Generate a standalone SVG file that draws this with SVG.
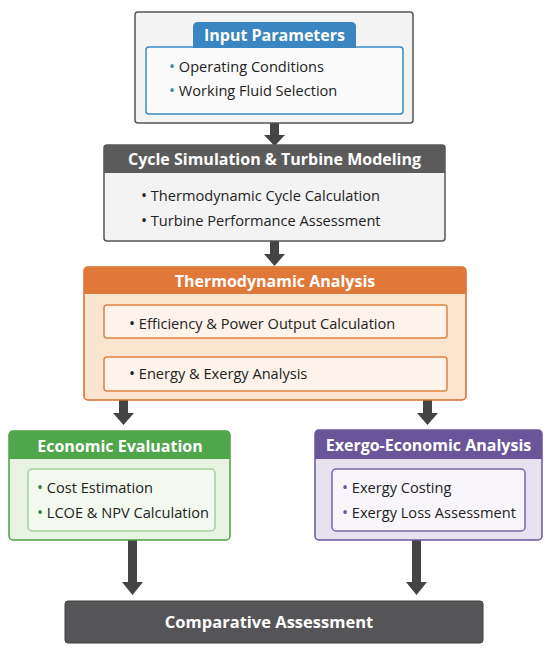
<svg xmlns="http://www.w3.org/2000/svg" width="550" height="654" viewBox="0 0 550 654">
<defs>
<style>
.t{font-family:"Open Sans","Noto Sans","Liberation Sans",sans-serif;font-size:14.6px;fill:#222}
.b{font-size:16px}
.h{font-family:"Open Sans","Noto Sans","Liberation Sans",sans-serif;font-size:16px;font-weight:bold;fill:#fff;text-anchor:middle}
.arr{fill:#444}
</style>
</defs>
<rect width="550" height="654" fill="#fff"/>

<g id="connectors" class="arr">
<polygon points="270,123 279,123 279,135 285,135 274.5,146 264,135 270,135"/>
<polygon points="270,241 279,241 279,254 285,254 274.5,266 264,254 270,254"/>
<polygon points="270,338 279,338 279,345 285,345 274.5,357 264,345 270,345"/>
<polygon points="119,400 128,400 128,413 134,413 123.5,425 113,413 119,413"/>
<polygon points="423,400 432,400 432,413 438,413 427.5,425 417,413 423,413"/>
<polygon points="128,540 137,540 137,582 143,582 132.5,595 122,582 128,582"/>
<polygon points="412,540 421,540 421,582 427,582 416.5,595 406,582 412,582"/>
</g>

<g id="input">
<rect x="135" y="12" width="278" height="111" rx="3" fill="#f4f4f4" stroke="#555" stroke-width="1.5"/>
<rect x="146" y="47" width="257" height="67" rx="3" fill="#fafafa" stroke="#3d8ac4" stroke-width="1.5"/>
<path d="M193,48 V27 Q193,22 198,22 H351 Q356,22 356,27 V48 Z" fill="#3a86c2"/>
<text class="h" x="274.5" y="40.5">Input Parameters</text>
<text class="t" x="169" y="72"><tspan class="b" fill="#3a86c2">•</tspan> Operating Conditions</text>
<text class="t" x="169" y="96"><tspan class="b" fill="#3a86c2">•</tspan> Working Fluid Selection</text>
</g>

<g id="cycle">
<rect x="104" y="145" width="341" height="96" rx="3" fill="#f3f3f3" stroke="#555" stroke-width="1.5"/>
<path d="M104,173 V148 Q104,145 107,145 H442 Q445,145 445,148 V173 Z" fill="#5b5b5b"/>
<text class="h" x="274.5" y="165">Cycle Simulation &amp; Turbine Modeling</text>
<text class="t" x="141" y="201"><tspan class="b">•</tspan> Thermodynamic Cycle Calculation</text>
<text class="t" x="141" y="226"><tspan class="b">•</tspan> Turbine Performance Assessment</text>
</g>

<g id="thermo">
<rect x="84" y="267" width="382" height="133" rx="4" fill="#fbe4d0" stroke="#d8692c" stroke-width="1.5"/>
<path d="M84,294 V271 Q84,267 88,267 H462 Q466,267 466,271 V294 Z" fill="#e0783a"/>
<text class="h" x="275" y="287">Thermodynamic Analysis</text>
<rect x="104" y="305" width="343" height="33" rx="3" fill="#fdf3ea" stroke="#e0803f" stroke-width="1.5"/>
<rect x="104" y="357" width="343" height="34" rx="3" fill="#fdf3ea" stroke="#e0803f" stroke-width="1.5"/>
<text class="t" x="129" y="329"><tspan class="b">•</tspan> Efficiency &amp; Power Output Calculation</text>
<text class="t" x="129" y="379"><tspan class="b">•</tspan> Energy &amp; Exergy Analysis</text>
</g>

<g id="economic">
<rect x="9" y="431" width="221" height="109" rx="4" fill="#e8f3e2" stroke="#4e9e48" stroke-width="1.5"/>
<path d="M9,459 V435 Q9,431 13,431 H226 Q230,431 230,435 V459 Z" fill="#4fa64b"/>
<text class="h" x="120" y="452">Economic Evaluation</text>
<rect x="28" y="469" width="187" height="62" rx="4" fill="#f3f9ef" stroke="#a2d196" stroke-width="1.5"/>
<text class="t" x="37" y="493"><tspan class="b" fill="#3f7f3a">•</tspan> Cost Estimation</text>
<text class="t" x="37" y="518"><tspan class="b" fill="#3f7f3a">•</tspan> LCOE &amp; NPV Calculation</text>
</g>

<g id="exergo">
<rect x="315" y="430" width="227" height="110" rx="4" fill="#e7e2f0" stroke="#6a559a" stroke-width="1.5"/>
<path d="M315,459 V434 Q315,430 319,430 H538 Q542,430 542,434 V459 Z" fill="#6a559a"/>
<text class="h" x="428.5" y="451">Exergo-Economic Analysis</text>
<rect x="332" y="469" width="193" height="62" rx="4" fill="#f8f6fb" stroke="#7a64a8" stroke-width="1.5"/>
<text class="t" x="342" y="493"><tspan class="b" fill="#6a559a">•</tspan> Exergy Costing</text>
<text class="t" x="342" y="518"><tspan class="b" fill="#6a559a">•</tspan> Exergy Loss Assessment</text>
</g>

<g id="comparative">
<rect x="65" y="601" width="418" height="42" rx="3" fill="#555557" stroke="#3e3e3e" stroke-width="1"/>
<text class="h" x="269" y="628" style="font-size:16.5px">Comparative Assessment</text>
</g>
</svg>
